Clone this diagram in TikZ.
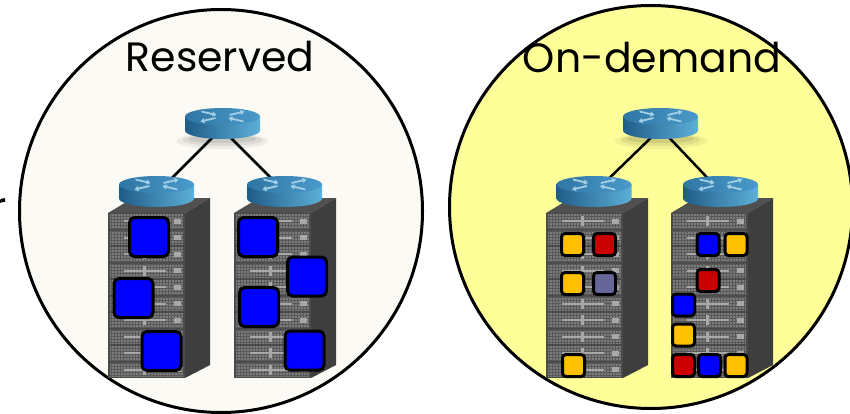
\documentclass[tikz,border=0pt]{standalone}
\usepackage{fontspec}
\setmainfont{Poppins}
\usetikzlibrary{arrows.meta,patterns}

\definecolor{reservedbg}{HTML}{FBFAF4}
\definecolor{ondemandbg}{HTML}{FFFF99}
\definecolor{vmblue}{HTML}{0000FF}
\definecolor{vmyellow}{HTML}{FFC000}
\definecolor{vmred}{HTML}{CC0000}
\definecolor{vmslate}{HTML}{666699}
\definecolor{racktop}{HTML}{505050}
\definecolor{rackside}{HTML}{3E3E3E}
\definecolor{rackfront}{HTML}{4A4A4A}
\definecolor{rackunit}{HTML}{7C7C7C}
\definecolor{grillline}{HTML}{595959}
\definecolor{slider}{HTML}{A8A8A8}
\definecolor{routerdark}{HTML}{1F5C88}
\definecolor{routerlight}{HTML}{5DB0D8}
\definecolor{routertopdark}{HTML}{2F76A4}
\definecolor{routertoplight}{HTML}{4A9ACA}
\definecolor{routerarrow}{HTML}{A3CFE6}

\tikzset{
  vm/.style={draw=black, line width=3pt, inner sep=0pt},
  bigvm/.style={vm, minimum size=39pt, rounded corners=5pt},
  smallvm/.style={vm, minimum size=22pt, rounded corners=3.5pt},
  link/.style={line width=2.5pt, black},
  pool/.style={circle, draw=black, line width=3pt, minimum size=403pt, inner sep=0pt},
  title/.style={font=\fontsize{41}{44}\selectfont, anchor=base, inner sep=0pt},
  rarrow/.style={routerarrow, line width=1.8pt, -{Triangle[width=5pt,length=4pt]}},
  % a server rack; origin = top-left corner of its front face
  serverrack/.pic={
    \fill[racktop] (0,0) -- (77,0) -- (102,-15) -- (25,-15) -- cycle;
    \fill[rackside] (77,0) -- (102,-15) -- (102,152) -- (77,165) -- cycle;
    \fill[rackfront] (0,0) rectangle (77,165);
    \foreach \i in {0,...,9} {
      \pgfmathsetmacro\ya{\i*16.5+1.2}
      \pgfmathsetmacro\yb{(\i+1)*16.5-1.2}
      \pgfmathsetmacro\ym{(\ya+\yb)/2}
      \fill[rackunit] (2,\ya) rectangle (75,\yb);
      \fill[pattern=grid, pattern color=grillline] (2,\ya) rectangle (75,\yb);
      \fill[slider] (16,\ym-1.2) rectangle (58,\ym+1.2);
      \fill[slider] (35,\ya+2) rectangle (38,\yb-2);
      \fill[slider] (66,\ym-2.5) rectangle (73,\ym+2.5);
    }
  },
  % a router; origin = centre of its top face
  router/.pic={
    \shade[left color=routerdark, right color=routerlight]
      (-37.5,0) -- (-37.5,14)
      arc[start angle=180, end angle=0, x radius=37.5, y radius=8.5]
      -- (37.5,0) -- cycle;
    \shade[left color=routertopdark, right color=routertoplight]
      (0,0) ellipse (37.5 and 8.5);
    \draw[rarrow] (-21,-5) -- (-6,-1.5);
    \draw[rarrow] (-7,1.5) -- (-22,5);
    \draw[rarrow] (7,-1.5) -- (22,-5);
    \draw[rarrow] (21,5) -- (6,1.5);
  },
  routershadow/.pic={
    \fill[black, opacity=0.06] (0,0) ellipse (46 and 8);
    \fill[black, opacity=0.07] (0,-1) ellipse (40 and 6);
    \fill[black, opacity=0.08] (0,-2) ellipse (34 and 4);
  },
}

\begin{document}
\begin{tikzpicture}[x=1pt, y=-1pt]
\useasboundingbox (0,0) rectangle (850,414);

% the two pools
\node[pool, fill=reservedbg] (reserved) at (221,211) {};
\node[pool, fill=ondemandbg] (ondemand) at (651,207) {};

% text cut by the left border
\node[title, anchor=base east] (cut) at (7,221) {r};

% ---------- reserved pool ----------
\coordinate (rtop) at (221.5,128.5);
\coordinate (rleft) at (160,190);
\coordinate (rright) at (283,190);
\pic at (222.5,141) {routershadow};
\draw[link] (rtop) -- (rleft);
\draw[link] (rtop) -- (rright);
\pic at (108,213) {serverrack};
\pic at (234,213) {serverrack};
\pic at (222.5,116.5) {router};
\pic at (156.5,184.5) {router};
\pic at (284.5,184.5) {router};

\node[bigvm, fill=vmblue] (a1) at (149,237) {};
\node[bigvm, fill=vmblue] (a2) at (133.5,298) {};
\node[bigvm, fill=vmblue] (a3) at (161.5,351) {};
\node[bigvm, fill=vmblue] (b1) at (258,237) {};
\node[bigvm, fill=vmblue] (b2) at (307,276.5) {};
\node[bigvm, fill=vmblue] (b3) at (259,307) {};
\node[bigvm, fill=vmblue] (b4) at (304.5,350.5) {};

% ---------- on-demand pool ----------
\coordinate (otop) at (660.5,128.5);
\coordinate (oleft) at (597,190);
\coordinate (oright) at (719,190);
\pic at (660.5,141) {routershadow};
\draw[link] (otop) -- (oleft);
\draw[link] (otop) -- (oright);
\pic at (546,213) {serverrack};
\pic at (671,213) {serverrack};
\pic at (660.5,116.5) {router};
\pic at (594,184.5) {router};
\pic at (720.5,184.5) {router};

\node[smallvm, fill=vmyellow] (c1) at (572.5,244.5) {};
\node[smallvm, fill=vmred]    (c2) at (604.5,244.5) {};
\node[smallvm, fill=vmyellow] (c3) at (572.5,283.5) {};
\node[smallvm, fill=vmslate]  (c4) at (604.5,283.5) {};
\node[smallvm, fill=vmyellow] (c5) at (573.5,365.5) {};

\node[smallvm, fill=vmblue]   (d1) at (708,244.5) {};
\node[smallvm, fill=vmyellow] (d2) at (736,244.5) {};
\node[smallvm, fill=vmred]    (d3) at (708,280.5) {};
\node[smallvm, fill=vmblue]   (d4) at (683.5,305) {};
\node[smallvm, fill=vmyellow] (d5) at (683.5,335) {};
\node[smallvm, fill=vmred]    (d6) at (683.5,365.5) {};
\node[smallvm, fill=vmblue]   (d7) at (709.5,365.5) {};
\node[smallvm, fill=vmyellow] (d8) at (736,365.5) {};

% titles
\node[title] (tres) at (220,72) {Reserved};
\node[title] (tond) at (652,73) {On-demand};
\end{tikzpicture}
\end{document}
